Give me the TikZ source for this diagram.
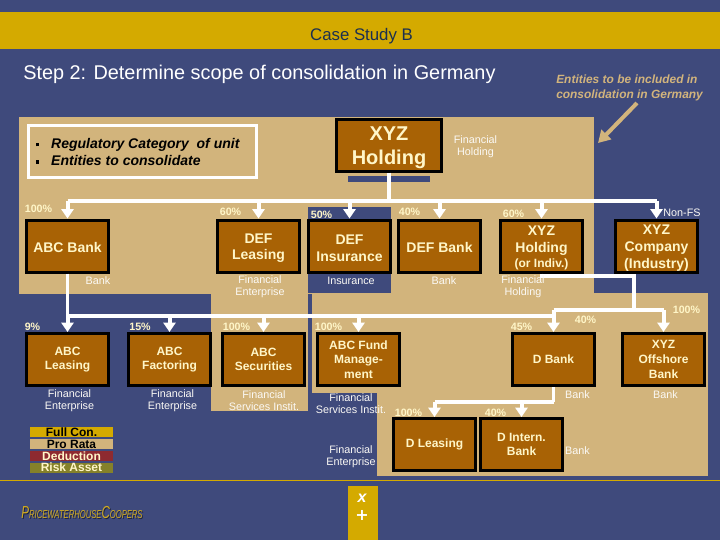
\documentclass[tikz,border=0pt]{standalone}
\usepackage{fontspec}
\setmainfont{Liberation Sans}
\newfontfamily\plusfont{DejaVu Sans}
\usetikzlibrary{arrows.meta}

\definecolor{slate}{HTML}{3F4A7C}
\definecolor{sand}{HTML}{D2B47C}
\definecolor{gold}{HTML}{D4AA00}
\definecolor{rust}{HTML}{A86205}
\definecolor{cream}{HTML}{FFF6C8}
\definecolor{ink}{HTML}{1C3050}
\definecolor{wine}{HTML}{8E2A30}
\definecolor{olive}{HTML}{85812A}

\newcommand{\lowerline}[1]{\rule{0pt}{#1}}
\newcommand{\keymark}{\rule[1.4pt]{2.4pt}{2.4pt}\hspace{8.8pt}}

\tikzset{
    entity/.style={draw=black, fill=rust, text=cream, line width=2.25pt, inner sep=0pt,
        minimum width=61.5pt, minimum height=39pt, align=center,
        font=\fontsize{10.5}{12.5}\selectfont\bfseries},
    entitysmall/.style={entity, font=\fontsize{9}{11}\selectfont\bfseries},
    pct/.style={text=cream, inner sep=0pt, font=\fontsize{8}{9}\selectfont\bfseries},
    tag/.style={text=white!92!sand, inner sep=0pt, align=center, font=\fontsize{8.1}{9.2}\selectfont},
    keyline/.style={inner sep=0pt, anchor=west, font=\fontsize{10.5}{12}\selectfont\bfseries\itshape},
    legend/.style={inner sep=0pt, minimum width=62.25pt, minimum height=7.5pt,
        font=\fontsize{9}{9}\selectfont\bfseries},
    logotext/.style={inner sep=0pt, xscale=0.667, transform shape, font=\fontsize{8.6}{10}\selectfont\itshape},
    link/.style={draw=white, line width=2.6pt},
    arrowlink/.style={draw=white, line width=3pt, arrows={-Triangle[width=9pt, length=7pt]}}
}

\begin{document}
\begin{tikzpicture}[x=0.75pt, y=-0.75pt]

    \useasboundingbox (0, 0) rectangle (720, 540);
    \fill[slate] (0, 0) rectangle (720, 540);
    \fill[gold] (0, 12) rectangle (720, 49);
    \fill[sand] (19, 117) rectangle (594, 294);
    \fill[sand] (211, 294) rectangle (308, 411);
    \fill[sand] (312, 293) rectangle (708, 393);
    \fill[sand] (377, 393) rectangle (708, 476);
    \fill[slate] (308, 207) rectangle (391, 293);
    \fill[slate] (348, 176) rectangle (430, 182);
    \fill[gold] (0, 480.3) rectangle (720, 481.1);
    \fill[gold] (348, 486) rectangle (378, 540);

    \path node (case) [text=ink, inner sep=0pt, font=\fontsize{12.6}{14}\selectfont] at (361.5, 36) {Case Study B};
    \path node (title) [text=white, inner sep=0pt, anchor=west, font=\fontsize{14.9}{17}\selectfont] at (23, 74) {Step 2: Determine scope of consolidation in Germany};
    \path node (scope) [text=sand, inner sep=0pt, anchor=west, align=left, font=\fontsize{8.95}{11.2}\selectfont\bfseries\itshape] at (556, 88) {Entities to be included in\\consolidation in Germany};
    \coordinate (scopetail) at (637, 103);
    \coordinate (scopetip) at (598, 143);
    \draw[draw=sand, line width=3pt, arrows={-Triangle[width=10pt, length=9pt]}] (scopetail) -- (scopetip);

    \path node (key) [draw=white, line width=2.25pt, minimum width=171pt, minimum height=39pt] at (142.5, 151.5) {};
    \path node (keya) [keyline] at (36, 144.5) {\keymark Regulatory Category\ \ of unit};
    \path node (keyb) [keyline] at (36, 160.5) {\keymark Entities to consolidate};

    \path node (xyzh) [entity, minimum width=78.75pt, font=\fontsize{15}{18.5}\selectfont\bfseries] at (389, 145) {\lowerline{14.6pt}XYZ\\Holding};
    \path node (abcbank) [entity] at (67.5, 246) {\lowerline{10pt}ABC Bank};
    \path node (defl) [entity] at (258.5, 246) {\lowerline{10.5pt}DEF\\Leasing};
    \path node (defi) [entity] at (349.5, 246) {\lowerline{10.5pt}DEF\\Insurance};
    \path node (defb) [entity] at (439.5, 246) {\lowerline{10pt}DEF Bank};
    \path node (xyzi) [entity] at (541.5, 246) {\lowerline{10.5pt}XYZ\\Holding\\[-1pt]{\fontsize{9}{11}\selectfont (or Indiv.)}};
    \path node (xyzc) [entity] at (656.5, 246) {\lowerline{10.5pt}XYZ\\Company\\(Industry)};

    \path node (abcl) [entitysmall] at (67.5, 359.5) {ABC\\Leasing};
    \path node (abcf) [entitysmall] at (169.5, 359.5) {ABC\\Factoring};
    \path node (abcs) [entitysmall] at (263.5, 359.5) {ABC\\Securities};
    \path node (abcm) [entitysmall] at (358.5, 359.5) {ABC Fund\\Manage-\\ment};
    \path node (dbank) [entitysmall] at (553.5, 359.5) {D Bank};
    \path node (xyzo) [entitysmall] at (663.5, 359.5) {XYZ\\Offshore\\Bank};
    \path node (dlea) [entitysmall] at (434.5, 444.5) {D Leasing};
    \path node (dint) [entitysmall] at (521.5, 444.5) {D Intern.\\Bank};

    \coordinate (busa) at (389, 201);
    \coordinate (busb) at (67.5, 316);
    \coordinate (busc) at (553.5, 310);
    \coordinate (busd) at (553.5, 402);

    \draw[link] (xyzh.south) -- (busa);
    \draw[link] (67.5, 201) -- (656.5, 201);
    \foreach \target in {abcbank, defl, defi, defb, xyzi, xyzc}
        \draw[arrowlink] (\target.north |- busa) -- (\target.north);

    \draw[link] (abcbank.south) -- (busb);
    \draw[link] (busb) -- (553.5, 316);
    \foreach \target in {abcl, abcf, abcs, abcm}
        \draw[arrowlink] (\target.north |- busb) -- (\target.north);

    \draw[link] (xyzi.south) |- (634, 276) -- (634, 310);
    \draw[link] (busc) -- (663.5, 310);
    \foreach \target in {dbank, xyzo}
        \draw[arrowlink] (\target.north |- busc) -- (\target.north);

    \draw[link] (dbank.south) -- (busd);
    \draw[link] (busd) -- (434.5, 402);
    \foreach \target in {dlea, dint}
        \draw[arrowlink] (\target.north |- busd) -- (\target.north);

    \path node (p1) [pct] at (38.5, 208.5) {100\%};
    \path node (p2) [pct] at (230.5, 211.5) {60\%};
    \path node (p3) [pct] at (321.5, 214.5) {50\%};
    \path node (p4) [pct] at (409.5, 211.5) {40\%};
    \path node (p5) [pct] at (513.5, 213.5) {60\%};
    \path node (p6) [pct] at (32.5, 326.5) {9\%};
    \path node (p7) [pct] at (140, 326.5) {15\%};
    \path node (p8) [pct] at (236.5, 326.5) {100\%};
    \path node (p9) [pct] at (328.5, 326.5) {100\%};
    \path node (p10) [pct] at (521.5, 326.5) {45\%};
    \path node (p11) [pct] at (585.5, 319.5) {40\%};
    \path node (p12) [pct] at (686.5, 310) {100\%};
    \path node (p13) [pct] at (408.5, 412.5) {100\%};
    \path node (p14) [pct] at (495.5, 412.5) {40\%};

    \path node (t1) [tag] at (475.5, 147) {Financial\\Holding};
    \path node (t2) [tag] at (682, 212.5) {Non-FS};
    \path node (t3) [tag] at (98, 280.5) {Bank};
    \path node (t4) [tag] at (260, 287) {Financial\\Enterprise};
    \path node (t5) [tag] at (351, 280.5) {Insurance};
    \path node (t6) [tag] at (444, 280.5) {Bank};
    \path node (t7) [tag] at (523, 287) {Financial\\Holding};
    \path node (t8) [tag] at (69.5, 400.5) {Financial\\Enterprise};
    \path node (t9) [tag] at (172.5, 400.5) {Financial\\Enterprise};
    \path node (t10) [tag] at (264, 400.5) {Financial\\Services Instit.};
    \path node (t11) [tag] at (351, 403.5) {Financial\\Services Instit.};
    \path node (t12) [tag] at (351, 457) {Financial\\Enterprise};
    \path node (t13) [tag] at (577.5, 394.5) {Bank};
    \path node (t14) [tag] at (665.5, 394.5) {Bank};
    \path node (t15) [tag] at (577.5, 450.5) {Bank};

    \path node (full) [legend, fill=gold, text=black] at (71.5, 432.3) {Full Con.};
    \path node (prorata) [legend, fill=sand, text=black] at (71.5, 444.3) {Pro Rata};
    \path node (deduct) [legend, fill=wine, text=cream] at (71.5, 455.8) {Deduction};
    \path node (risk) [legend, fill=olive, text=cream] at (71.5, 467.5) {Risk Asset};

    \path node (logoshade) [logotext, text=black!55!slate] at (83, 514) {{\fontsize{13}{10}\selectfont P}RICEWATERHOUSE{\fontsize{13}{10}\selectfont C}OOPERS};
    \path node (logo) [logotext, text=gold!75!sand] at (82, 513) {{\fontsize{13}{10}\selectfont P}RICEWATERHOUSE{\fontsize{13}{10}\selectfont C}OOPERS};

    \path node (times) [text=white, inner sep=0pt, font=\fontsize{12}{12}\selectfont\bfseries\itshape] at (362, 498) {x};
    \path node (plus) [text=white, inner sep=0pt, font=\fontsize{12}{12}\selectfont\plusfont\bfseries] at (362, 515) {+};

\end{tikzpicture}
\end{document}
